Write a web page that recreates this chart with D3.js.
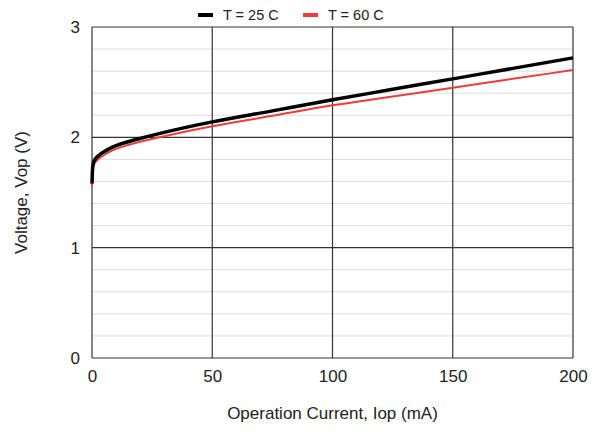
<!DOCTYPE html>
<html>
<head>
<meta charset="utf-8">
<script src="https://cdn.jsdelivr.net/npm/d3@7"></script>
<style>
  body {margin: 0; background: #fff}
  text {font-family: "Liberation Sans", Arial, sans-serif}
</style>
</head>
<body>
<div id="chart"></div>
<script>
// values
var current = [0, 0.2, 0.5, 1, 2, 3, 5, 7.5, 10, 15, 20, 30, 40, 50, 75, 100, 125, 150, 175, 200]
var v25 = [1.58, 1.70, 1.76, 1.79, 1.82, 1.84, 1.87, 1.90, 1.925, 1.96, 1.99, 2.045, 2.095, 2.14, 2.24, 2.34, 2.435, 2.53, 2.625, 2.72]
var v60 = [1.55, 1.66, 1.72, 1.76, 1.79, 1.81, 1.84, 1.87, 1.895, 1.93, 1.96, 2.01, 2.057, 2.10, 2.195, 2.29, 2.37, 2.45, 2.53, 2.61]
var xTicks = [0, 50, 100, 150, 200]
var yTicks = [0, 1, 2, 3]
var series = [
  {name: "T = 25 C", values: v25, color: "#000", width: 3.5},
  {name: "T = 60 C", values: v60, color: "#ee3b3b", width: 2}
]

var W = 604, H = 433
var m = {left: 92, right: 31, top: 27, bottom: 75}

var svg = d3.select("#chart").append("svg")
            .attr("width", W)
            .attr("height", H)

var x = d3.scaleLinear().domain([0, 200]).range([m.left, W - m.right])
var y = d3.scaleLinear().domain([0, 3]).range([H - m.bottom, m.top])

// minor grid every 0.2 V
var minor = d3.range(0, 3.001, 0.2).filter(v => Math.abs(v - Math.round(v)) > 0.01)
svg.append("g").selectAll("line").data(minor).join("line")
   .attr("x1", x(0)).attr("x2", x(200))
   .attr("y1", d => y(d)).attr("y2", d => y(d))
   .attr("stroke", "#ddd").attr("stroke-width", 1)

// major grid
svg.append("g").selectAll("line").data(yTicks).join("line")
   .attr("x1", x(0)).attr("x2", x(200))
   .attr("y1", d => y(d)).attr("y2", d => y(d))
   .attr("stroke", "#333").attr("stroke-width", 1.2)
svg.append("g").selectAll("line").data(xTicks).join("line")
   .attr("x1", d => x(d)).attr("x2", d => x(d))
   .attr("y1", y(0)).attr("y2", y(3))
   .attr("stroke", "#333").attr("stroke-width", 1.2)

// axes (labels only)
var xAxis = svg.append("g").attr("transform", "translate(0," + y(0) + ")")
               .call(d3.axisBottom(x).tickValues(xTicks).tickSize(0).tickPadding(12).tickFormat(d3.format("d")))
var yAxis = svg.append("g").attr("transform", "translate(" + x(0) + ",0)")
               .call(d3.axisLeft(y).tickValues(yTicks).tickSize(0).tickPadding(12).tickFormat(d3.format("d")))
;[xAxis, yAxis].forEach(a => {
  a.select(".domain").remove()
  a.selectAll("text").attr("font-size", 17).attr("fill", "#222")
   .attr("font-family", "Liberation Sans, Arial, sans-serif")
})

var line = d3.line().curve(d3.curveMonotoneX)
             .x((d, i) => x(current[i]))
             .y(d => y(d))

// red drawn first, black on top
series.slice().reverse().forEach(s => {
  svg.append("path")
     .attr("d", line(s.values))
     .attr("fill", "none")
     .attr("stroke", s.color)
     .attr("stroke-width", s.width)
     .attr("stroke-linejoin", "round")
})

// legend
var lg = svg.append("g").attr("transform", "translate(198,15)")
series.forEach((s, i) => {
  var g = lg.append("g").attr("transform", "translate(" + (i * 105) + ",0)")
  g.append("line").attr("x1", 0).attr("x2", 15).attr("y1", 0).attr("y2", 0)
   .attr("stroke", s.color).attr("stroke-width", 4)
  g.append("text").attr("x", 25).attr("y", 5).attr("font-size", 14.5).attr("fill", "#222").text(s.name)
})

// titles
svg.append("text").attr("x", (x(0) + x(200)) / 2).attr("y", 419)
   .attr("text-anchor", "middle").attr("font-size", 17).attr("fill", "#222")
   .text("Operation Current, Iop (mA)")
svg.append("text").attr("transform", "translate(27," + (y(1.5)) + ") rotate(-90)")
   .attr("text-anchor", "middle").attr("font-size", 17).attr("fill", "#222")
   .text("Voltage, Vop (V)")
</script>
</body>
</html>
